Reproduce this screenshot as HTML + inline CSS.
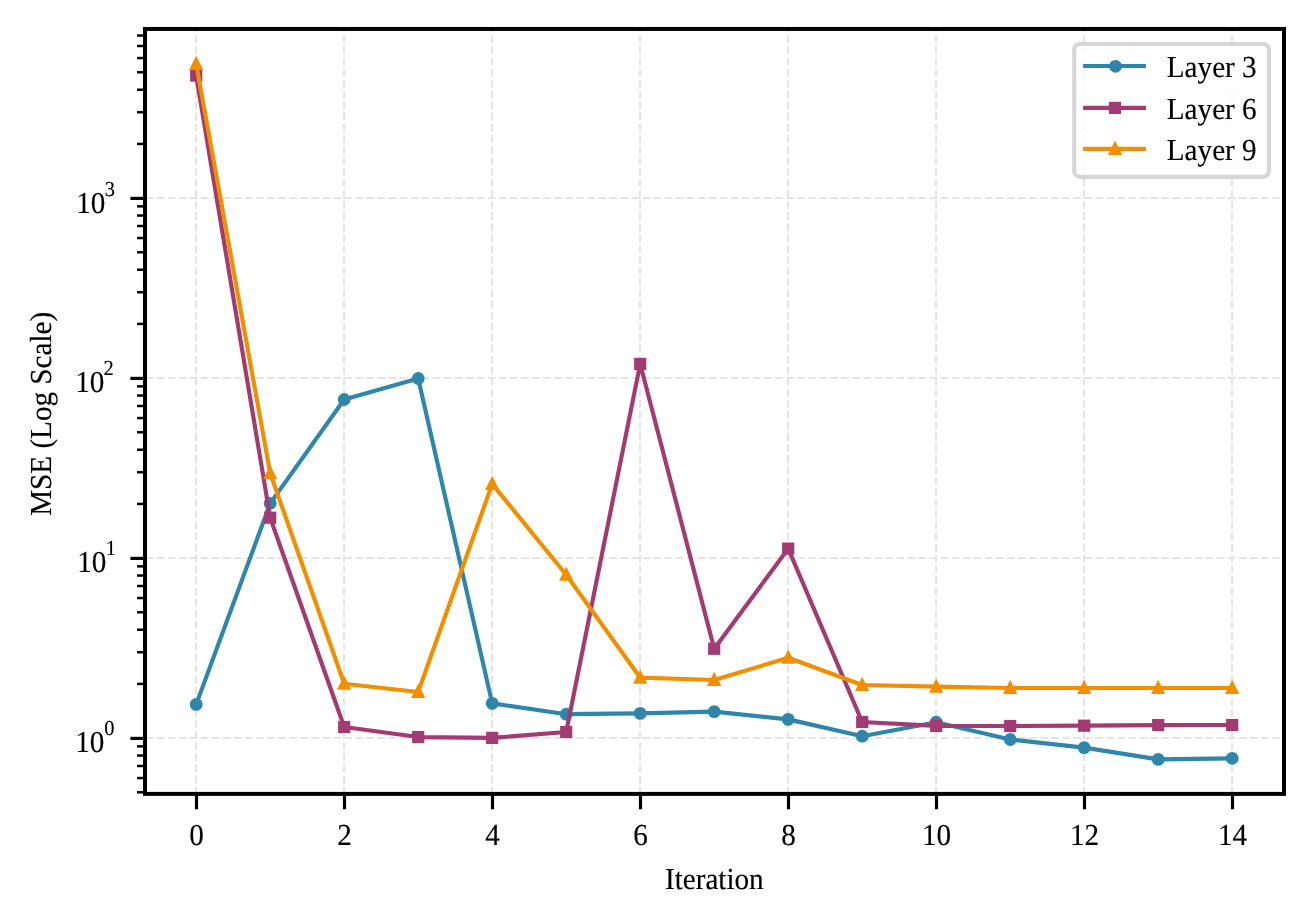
<!DOCTYPE html><html><head><meta charset="utf-8"><style>
html,body{margin:0;padding:0;background:#fff;}
svg{display:block;will-change:transform;}
text{font-family:"Liberation Serif",serif;fill:#000;stroke:#000;stroke-width:0.15px;text-rendering:geometricPrecision;}
</style></head><body>
<svg width="1313" height="924" viewBox="0 0 1313 924">
<rect x="0" y="0" width="1313" height="924" fill="#fff"/>
<defs><clipPath id="ax"><rect x="145.0" y="28.95" width="1139.0" height="764.9499999999999"/></clipPath></defs>
<g stroke="#e4e4e4" stroke-width="2.08" stroke-dasharray="7.71 3.333" fill="none" clip-path="url(#ax)"><line x1="196.05" y1="794.2" x2="196.05" y2="28.95" /><line x1="344.05" y1="794.2" x2="344.05" y2="28.95" /><line x1="492.05" y1="794.2" x2="492.05" y2="28.95" /><line x1="640.05" y1="794.2" x2="640.05" y2="28.95" /><line x1="788.05" y1="794.2" x2="788.05" y2="28.95" /><line x1="936.05" y1="794.2" x2="936.05" y2="28.95" /><line x1="1084.05" y1="794.2" x2="1084.05" y2="28.95" /><line x1="1232.05" y1="794.2" x2="1232.05" y2="28.95" /><line x1="145.6" y1="737.95" x2="1284.0" y2="737.95" /><line x1="145.6" y1="557.95" x2="1284.0" y2="557.95" /><line x1="145.6" y1="377.95" x2="1284.0" y2="377.95" /><line x1="145.6" y1="197.95" x2="1284.0" y2="197.95" /></g>
<g clip-path="url(#ax)">
<polyline points="196.20,704.40 270.20,503.40 344.20,399.50 418.20,378.50 492.20,703.40 566.20,714.20 640.20,713.40 714.20,711.60 788.20,719.40 862.20,736.20 936.20,722.20 1010.20,739.50 1084.20,747.60 1158.20,759.40 1232.20,758.30" fill="none" stroke="#2E86AB" stroke-width="4.17" stroke-linejoin="round" stroke-linecap="butt"/>
<circle cx="196.20" cy="704.40" r="6.40" fill="#2E86AB"/><circle cx="270.20" cy="503.40" r="6.40" fill="#2E86AB"/><circle cx="344.20" cy="399.50" r="6.40" fill="#2E86AB"/><circle cx="418.20" cy="378.50" r="6.40" fill="#2E86AB"/><circle cx="492.20" cy="703.40" r="6.40" fill="#2E86AB"/><circle cx="566.20" cy="714.20" r="6.40" fill="#2E86AB"/><circle cx="640.20" cy="713.40" r="6.40" fill="#2E86AB"/><circle cx="714.20" cy="711.60" r="6.40" fill="#2E86AB"/><circle cx="788.20" cy="719.40" r="6.40" fill="#2E86AB"/><circle cx="862.20" cy="736.20" r="6.40" fill="#2E86AB"/><circle cx="936.20" cy="722.20" r="6.40" fill="#2E86AB"/><circle cx="1010.20" cy="739.50" r="6.40" fill="#2E86AB"/><circle cx="1084.20" cy="747.60" r="6.40" fill="#2E86AB"/><circle cx="1158.20" cy="759.40" r="6.40" fill="#2E86AB"/><circle cx="1232.20" cy="758.30" r="6.40" fill="#2E86AB"/>
<polyline points="196.20,75.60 270.20,517.70 344.20,727.00 418.20,737.05 492.20,737.90 566.20,732.00 640.20,363.90 714.20,648.75 788.20,548.65 862.20,722.00 936.20,725.95 1010.20,726.00 1084.20,725.70 1158.20,725.05 1232.20,725.00" fill="none" stroke="#A23B72" stroke-width="4.17" stroke-linejoin="round" stroke-linecap="butt"/>
<rect x="190.10" y="69.50" width="12.2" height="12.2" fill="#A23B72"/><rect x="264.10" y="511.60" width="12.2" height="12.2" fill="#A23B72"/><rect x="338.10" y="720.90" width="12.2" height="12.2" fill="#A23B72"/><rect x="412.10" y="730.95" width="12.2" height="12.2" fill="#A23B72"/><rect x="486.10" y="731.80" width="12.2" height="12.2" fill="#A23B72"/><rect x="560.10" y="725.90" width="12.2" height="12.2" fill="#A23B72"/><rect x="634.10" y="357.80" width="12.2" height="12.2" fill="#A23B72"/><rect x="708.10" y="642.65" width="12.2" height="12.2" fill="#A23B72"/><rect x="782.10" y="542.55" width="12.2" height="12.2" fill="#A23B72"/><rect x="856.10" y="715.90" width="12.2" height="12.2" fill="#A23B72"/><rect x="930.10" y="719.85" width="12.2" height="12.2" fill="#A23B72"/><rect x="1004.10" y="719.90" width="12.2" height="12.2" fill="#A23B72"/><rect x="1078.10" y="719.60" width="12.2" height="12.2" fill="#A23B72"/><rect x="1152.10" y="718.95" width="12.2" height="12.2" fill="#A23B72"/><rect x="1226.10" y="718.90" width="12.2" height="12.2" fill="#A23B72"/>
<polyline points="196.20,64.00 270.20,473.20 344.20,683.80 418.20,692.00 492.20,484.00 566.20,574.80 640.20,677.70 714.20,680.00 788.20,657.80 862.20,685.00 936.20,686.70 1010.20,688.00 1084.20,688.00 1158.20,688.00 1232.20,688.00" fill="none" stroke="#F18F01" stroke-width="4.17" stroke-linejoin="round" stroke-linecap="butt"/>
<polygon points="196.20,55.70 189.05,70.00 203.35,70.00" fill="#F18F01"/><polygon points="270.20,464.90 263.05,479.20 277.35,479.20" fill="#F18F01"/><polygon points="344.20,675.50 337.05,689.80 351.35,689.80" fill="#F18F01"/><polygon points="418.20,683.70 411.05,698.00 425.35,698.00" fill="#F18F01"/><polygon points="492.20,475.70 485.05,490.00 499.35,490.00" fill="#F18F01"/><polygon points="566.20,566.50 559.05,580.80 573.35,580.80" fill="#F18F01"/><polygon points="640.20,669.40 633.05,683.70 647.35,683.70" fill="#F18F01"/><polygon points="714.20,671.70 707.05,686.00 721.35,686.00" fill="#F18F01"/><polygon points="788.20,649.50 781.05,663.80 795.35,663.80" fill="#F18F01"/><polygon points="862.20,676.70 855.05,691.00 869.35,691.00" fill="#F18F01"/><polygon points="936.20,678.40 929.05,692.70 943.35,692.70" fill="#F18F01"/><polygon points="1010.20,679.70 1003.05,694.00 1017.35,694.00" fill="#F18F01"/><polygon points="1084.20,679.70 1077.05,694.00 1091.35,694.00" fill="#F18F01"/><polygon points="1158.20,679.70 1151.05,694.00 1165.35,694.00" fill="#F18F01"/><polygon points="1232.20,679.70 1225.05,694.00 1239.35,694.00" fill="#F18F01"/>
</g>
<g stroke="#000" fill="none"><line x1="196.50" y1="793.9" x2="196.50" y2="809.3" stroke-width="3.2"/><line x1="344.50" y1="793.9" x2="344.50" y2="809.3" stroke-width="3.2"/><line x1="492.50" y1="793.9" x2="492.50" y2="809.3" stroke-width="3.2"/><line x1="640.50" y1="793.9" x2="640.50" y2="809.3" stroke-width="3.2"/><line x1="788.50" y1="793.9" x2="788.50" y2="809.3" stroke-width="3.2"/><line x1="936.50" y1="793.9" x2="936.50" y2="809.3" stroke-width="3.2"/><line x1="1084.50" y1="793.9" x2="1084.50" y2="809.3" stroke-width="3.2"/><line x1="1232.50" y1="793.9" x2="1232.50" y2="809.3" stroke-width="3.2"/><line x1="130.4" y1="738.40" x2="145.0" y2="738.40" stroke-width="3.2"/><line x1="130.4" y1="558.40" x2="145.0" y2="558.40" stroke-width="3.2"/><line x1="130.4" y1="378.40" x2="145.0" y2="378.40" stroke-width="3.2"/><line x1="130.4" y1="198.40" x2="145.0" y2="198.40" stroke-width="3.2"/><line x1="137.1" y1="792.29" x2="145.0" y2="792.29" stroke-width="2.5"/><line x1="137.1" y1="778.03" x2="145.0" y2="778.03" stroke-width="2.5"/><line x1="137.1" y1="765.98" x2="145.0" y2="765.98" stroke-width="2.5"/><line x1="137.1" y1="755.54" x2="145.0" y2="755.54" stroke-width="2.5"/><line x1="137.1" y1="746.34" x2="145.0" y2="746.34" stroke-width="2.5"/><line x1="137.1" y1="683.91" x2="145.0" y2="683.91" stroke-width="2.5"/><line x1="137.1" y1="652.22" x2="145.0" y2="652.22" stroke-width="2.5"/><line x1="137.1" y1="629.73" x2="145.0" y2="629.73" stroke-width="2.5"/><line x1="137.1" y1="612.29" x2="145.0" y2="612.29" stroke-width="2.5"/><line x1="137.1" y1="598.03" x2="145.0" y2="598.03" stroke-width="2.5"/><line x1="137.1" y1="585.98" x2="145.0" y2="585.98" stroke-width="2.5"/><line x1="137.1" y1="575.54" x2="145.0" y2="575.54" stroke-width="2.5"/><line x1="137.1" y1="566.34" x2="145.0" y2="566.34" stroke-width="2.5"/><line x1="137.1" y1="503.91" x2="145.0" y2="503.91" stroke-width="2.5"/><line x1="137.1" y1="472.22" x2="145.0" y2="472.22" stroke-width="2.5"/><line x1="137.1" y1="449.73" x2="145.0" y2="449.73" stroke-width="2.5"/><line x1="137.1" y1="432.29" x2="145.0" y2="432.29" stroke-width="2.5"/><line x1="137.1" y1="418.03" x2="145.0" y2="418.03" stroke-width="2.5"/><line x1="137.1" y1="405.98" x2="145.0" y2="405.98" stroke-width="2.5"/><line x1="137.1" y1="395.54" x2="145.0" y2="395.54" stroke-width="2.5"/><line x1="137.1" y1="386.34" x2="145.0" y2="386.34" stroke-width="2.5"/><line x1="137.1" y1="323.91" x2="145.0" y2="323.91" stroke-width="2.5"/><line x1="137.1" y1="292.22" x2="145.0" y2="292.22" stroke-width="2.5"/><line x1="137.1" y1="269.73" x2="145.0" y2="269.73" stroke-width="2.5"/><line x1="137.1" y1="252.29" x2="145.0" y2="252.29" stroke-width="2.5"/><line x1="137.1" y1="238.03" x2="145.0" y2="238.03" stroke-width="2.5"/><line x1="137.1" y1="225.98" x2="145.0" y2="225.98" stroke-width="2.5"/><line x1="137.1" y1="215.54" x2="145.0" y2="215.54" stroke-width="2.5"/><line x1="137.1" y1="206.34" x2="145.0" y2="206.34" stroke-width="2.5"/><line x1="137.1" y1="143.91" x2="145.0" y2="143.91" stroke-width="2.5"/><line x1="137.1" y1="112.22" x2="145.0" y2="112.22" stroke-width="2.5"/><line x1="137.1" y1="89.73" x2="145.0" y2="89.73" stroke-width="2.5"/><line x1="137.1" y1="72.29" x2="145.0" y2="72.29" stroke-width="2.5"/><line x1="137.1" y1="58.03" x2="145.0" y2="58.03" stroke-width="2.5"/><line x1="137.1" y1="45.98" x2="145.0" y2="45.98" stroke-width="2.5"/><line x1="137.1" y1="35.54" x2="145.0" y2="35.54" stroke-width="2.5"/></g>
<rect x="145.0" y="28.95" width="1139.0" height="764.9499999999999" fill="none" stroke="#000" stroke-width="4.0" stroke-linejoin="miter"/>
<rect x="1074.2" y="44.0" width="194.7" height="132.9" rx="5.8" ry="5.8" fill="#fff" fill-opacity="0.8" stroke="#ccc" stroke-opacity="0.8" stroke-width="4.17"/>
<line x1="1083.1" y1="66.0" x2="1146.0" y2="66.0" stroke="#2E86AB" stroke-width="4.17"/>
<circle cx="1115.50" cy="66.30" r="6.40" fill="#2E86AB"/>
<text transform="translate(1166.80,77.05) scale(1,1.045)" font-size="29.17">Layer 3</text>
<line x1="1083.1" y1="107.9" x2="1146.0" y2="107.9" stroke="#A23B72" stroke-width="4.17"/>
<rect x="1108.90" y="101.80" width="12.2" height="12.2" fill="#A23B72"/>
<text transform="translate(1166.80,118.95) scale(1,1.045)" font-size="29.17">Layer 6</text>
<line x1="1083.1" y1="148.9" x2="1146.0" y2="148.9" stroke="#F18F01" stroke-width="4.17"/>
<polygon points="1115.00,140.60 1107.85,154.90 1122.15,154.90" fill="#F18F01"/>
<text transform="translate(1166.80,159.95) scale(1,1.045)" font-size="29.17">Layer 9</text>
<text transform="translate(196.50,844.60) scale(1,1.045)" font-size="29.17" text-anchor="middle">0</text>
<text transform="translate(344.50,844.60) scale(1,1.045)" font-size="29.17" text-anchor="middle">2</text>
<text transform="translate(492.50,844.60) scale(1,1.045)" font-size="29.17" text-anchor="middle">4</text>
<text transform="translate(640.50,844.60) scale(1,1.045)" font-size="29.17" text-anchor="middle">6</text>
<text transform="translate(788.50,844.60) scale(1,1.045)" font-size="29.17" text-anchor="middle">8</text>
<text transform="translate(936.50,844.60) scale(1,1.045)" font-size="29.17" text-anchor="middle">10</text>
<text transform="translate(1084.50,844.60) scale(1,1.045)" font-size="29.17" text-anchor="middle">12</text>
<text transform="translate(1232.50,844.60) scale(1,1.045)" font-size="29.17" text-anchor="middle">14</text>
<text transform="translate(75.24,751.80) scale(1,1.045)" font-size="29.17">10</text>
<text transform="translate(104.14,734.90) scale(1,1.045)" font-size="20.42">0</text>
<text transform="translate(77.14,571.80) scale(1,1.045)" font-size="29.17">10</text>
<text transform="translate(105.71,554.90) scale(1,1.045)" font-size="20.42">1</text>
<text transform="translate(75.19,391.80) scale(1,1.045)" font-size="29.17">10</text>
<text transform="translate(103.61,374.90) scale(1,1.045)" font-size="20.42">2</text>
<text transform="translate(76.19,212.80) scale(1,1.045)" font-size="29.17">10</text>
<text transform="translate(104.81,195.90) scale(1,1.045)" font-size="20.42">3</text>
<text transform="translate(714.30,889.20) scale(1,1.045)" font-size="29.17" text-anchor="middle">Iteration</text>
<text transform="translate(51.00,413.80) rotate(-90) scale(1,1.045)" font-size="29.17" text-anchor="middle">MSE (Log Scale)</text>
</svg></body></html>
